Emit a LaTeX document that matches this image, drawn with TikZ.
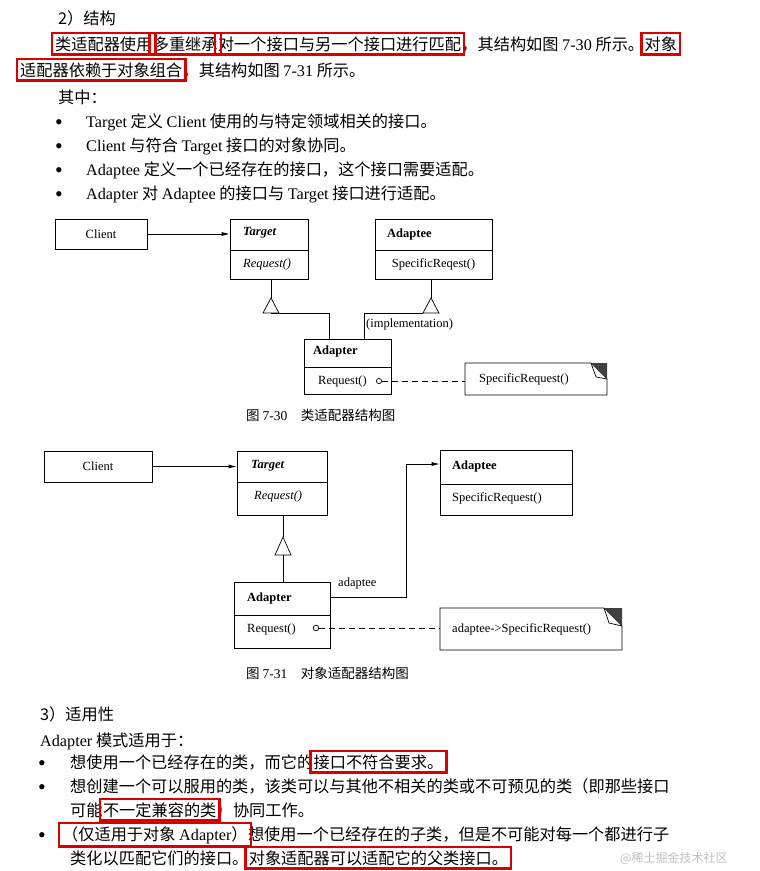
\documentclass[tikz,border=0pt]{standalone}
\usepackage{fontspec}
\setmainfont{Noto Sans CJK SC}
\newfontfamily\lt{Liberation Serif}
\usetikzlibrary{arrows.meta,fit}
\newcommand\lw[1]{{\lt #1}}
\begin{document}
\begin{tikzpicture}[x=1pt,y=-1pt,
  cls/.style={draw, line width=0.7pt, inner sep=0},
  lbl/.style={font=\lt\fontsize{12.5}{14}\selectfont, inner sep=0},
  seg/.style={anchor=base west, inner sep=0, font=\fontsize{16.2}{18}\selectfont},
  bul/.style={anchor=base west, inner sep=0, font=\lt\fontsize{22}{22}\selectfont},
  hl/.style={draw=red!85!black, line width=2.4pt, inner sep=3pt},
  con/.style={line width=0.7pt},
  arr/.style={con,-{Latex[length=8pt,width=4pt]}},
  dsh/.style={con,dash pattern=on 6pt off 4pt}]
\useasboundingbox (0,0) rectangle (760,871);
% ---------- top text ----------
\node[seg] (h2) at (58,24) {2）结构};
\node[seg] (a1) at (55,50) {类适配器使用};
\node[seg] (a2) at (a1.base east) {多重继承};
\node[seg] (a3) at (a2.base east) {对一个接口与另一个接口进行匹配};
\node[seg] (a4) at (a3.base east) {，其结构如图 \lw{7-30} 所示。};
\node[seg] (a5) at (a4.base east) {对象};
\node[hl, fit=(a1)] (b1) {};
\node[hl, fit=(a2)] (b2) {};
\node[hl, fit=(a3)] (b3) {};
\node[hl, fit=(a5)] (b4) {};
\node[seg] (c1) at (20,76) {适配器依赖于对象组合};
\node[seg] (c2) at (c1.base east) {，其结构如图 \lw{7-31} 所示。};
\node[hl, fit=(c1)] (b5) {};
\node[seg] (d0) at (58,103) {其中：};
\foreach \y/\n in {127/e1,151/e2,175/e3,199/e4} \node[bul] (\n b) at (55,\y+2) {•};
\node[seg] (e1) at (86,127) {\lw{Target} 定义 \lw{Client} 使用的与特定领域相关的接口。};
\node[seg] (e2) at (86,151) {\lw{Client} 与符合 \lw{Target} 接口的对象协同。};
\node[seg] (e3) at (86,175) {\lw{Adaptee} 定义一个已经存在的接口，这个接口需要适配。};
\node[seg] (e4) at (86,199) {\lw{Adapter} 对 \lw{Adaptee} 的接口与 \lw{Target} 接口进行适配。};
% ---------- diagram 7-30 ----------
\node[cls, minimum width=92pt, minimum height=30pt] (cl1) at (101,234) {};
\node[lbl] at (cl1) {Client};
\node[cls, minimum width=78pt, minimum height=60pt] (t1) at (269,249) {};
\draw[con] (t1.west |- 0,250) -- (t1.east |- 0,250);
\node[lbl, font=\lt\bfseries\itshape\fontsize{12.5}{14}\selectfont, anchor=west] (t1h) at (243,233) {Target};
\node[lbl, font=\lt\itshape\fontsize{12.5}{14}\selectfont, anchor=west] (t1m) at (243,264) {Request()};
\node[cls, minimum width=117pt, minimum height=60pt] (ae1) at (433.5,249) {};
\draw[con] (ae1.west |- 0,250) -- (ae1.east |- 0,250);
\node[lbl, font=\lt\bfseries\fontsize{12.5}{14}\selectfont, anchor=west] (ae1h) at (387,234) {Adaptee};
\node[lbl] (ae1m) at (433.5,264) {SpecificReqest()};
\node[cls, minimum width=87pt, minimum height=55pt] (ad1) at (347.5,366.5) {};
\draw[con] (ad1.west |- 0,367) -- (ad1.east |- 0,367);
\node[lbl, font=\lt\bfseries\fontsize{12.5}{14}\selectfont, anchor=west] (ad1h) at (313,351) {Adapter};
\node[lbl, anchor=west] (ad1m) at (318,381) {Request()};
\draw[arr] (cl1.east) -- (t1.west |- cl1.east);
% triangles
\coordinate (tr1) at (271,298);
\draw[con] (271,279) -- (tr1);
\draw[con] (tr1) -- (263,313) -- (279,313) -- cycle;
\draw[con] (271,313) -- (329,313) -- (329,339);
\coordinate (tr2) at (431,298);
\draw[con] (431,279) -- (tr2);
\draw[con] (tr2) -- (423,313) -- (439,313) -- cycle;
\draw[con] (423,313) -- (364,313) -- (364,339);
\node[lbl, anchor=west] (impl) at (366,324) {(implementation)};
% note 1
\coordinate (n1) at (465,379);
\draw[con] (465,363) -- (591,363) -- (607,379) -- (607,395) -- (465,395) -- cycle;
\fill[black!75] (591,363) -- (607,363) -- (607,379) -- cycle;
\draw[con] (591,363) -- (596,377) -- (607,379);
\node[lbl, anchor=west] (n1t) at (479,379) {SpecificRequest()};
\draw[con] (379,381) circle (2.6pt);
\coordinate (o1) at (381.6,381);
\draw[dsh] (o1) -- (n1 |- o1);
\node[seg, font=\fontsize{13.5}{15}\selectfont] (cap1) at (246,420) {图 \lw{7-30}\quad 类适配器结构图};
% ---------- diagram 7-31 ----------
\node[cls, minimum width=108pt, minimum height=31pt] (cl2) at (98,466.5) {};
\node[lbl] at (cl2) {Client};
\node[cls, minimum width=90pt, minimum height=64pt] (t2) at (282,483) {};
\draw[con] (t2.west |- 0,482) -- (t2.east |- 0,482);
\node[lbl, font=\lt\bfseries\itshape\fontsize{12.5}{14}\selectfont, anchor=west] (t2h) at (251,466) {Target};
\node[lbl, font=\lt\itshape\fontsize{12.5}{14}\selectfont, anchor=west] (t2m) at (254,496) {Request()};
\node[cls, minimum width=132pt, minimum height=65pt] (ae2) at (506,482.5) {};
\draw[con] (ae2.west |- 0,484) -- (ae2.east |- 0,484);
\node[lbl, font=\lt\bfseries\fontsize{12.5}{14}\selectfont, anchor=west] (ae2h) at (452,466) {Adaptee};
\node[lbl, anchor=west] (ae2m) at (452,498) {SpecificRequest()};
\node[cls, minimum width=96pt, minimum height=66pt] (ad2) at (282,615) {};
\draw[con] (ad2.west |- 0,615) -- (ad2.east |- 0,615);
\node[lbl, font=\lt\bfseries\fontsize{12.5}{14}\selectfont, anchor=west] (ad2h) at (247,598) {Adapter};
\node[lbl, anchor=west] (ad2m) at (247,629) {Request()};
\draw[arr] (cl2.east) -- (t2.west |- cl2.east);
\coordinate (tr3) at (283,537);
\draw[con] (t2.south -| tr3) -- (tr3);
\draw[con] (tr3) -- (275,555) -- (291,555) -- cycle;
\draw[con] (283,555) -- (ad2.north -| tr3);
\coordinate (k1) at (406,597);
\draw[arr] (ad2.east |- k1) -- (k1) -- (406,464) -- (ae2.west |- 0,464);
\node[lbl, anchor=west] (adp) at (338,583) {adaptee};
% note 2
\coordinate (n2) at (440,629);
\draw[con] (440,608) -- (604,608) -- (622,626) -- (622,650) -- (440,650) -- cycle;
\fill[black!75] (604,608) -- (622,608) -- (622,626) -- cycle;
\draw[con] (604,608) -- (609,623) -- (622,626);
\node[lbl, anchor=west] (n2t) at (452,629) {adaptee->SpecificRequest()};
\draw[con] (316,628) circle (2.8pt);
\coordinate (o2) at (318.8,628);
\draw[dsh] (o2) -- (n2 |- o2);
\node[seg, font=\fontsize{13.5}{15}\selectfont] (cap2) at (246,678) {图 \lw{7-31}\quad 对象适配器结构图};
% ---------- bottom text ----------
\node[seg] (f0) at (40,720) {3）适用性};
\node[seg] (f1) at (40,746) {\lw{Adapter} 模式适用于：};
\foreach \y/\n in {768/g1,792/g2,840/g3} \node[bul] (\n b) at (38,\y+2) {•};
\node[seg] (g1a) at (70,768) {想使用一个已经存在的类，而它的};
\node[seg] (g1b) at (g1a.base east) {接口不符合要求。};
\node[hl, fit=(g1b)] (r1) {};
\node[seg] (g2a) at (70,792) {想创建一个可以服用的类，该类可以与其他不相关的类或不可预见的类（即那些接口};
\node[seg] (g2b) at (70,816) {可能};
\node[seg] (g2c) at (g2b.base east) {不一定兼容的类};
\node[seg] (g2d) at (g2c.base east) {）协同工作。};
\node[hl, fit=(g2c)] (r2) {};
\node[seg] (g3a) at (62,840) {（仅适用于对象 \lw{Adapter}）};
\node[seg] (g3b) at (g3a.base east) {想使用一个已经存在的子类，但是不可能对每一个都进行子};
\node[hl, fit=(g3a)] (r3) {};
\node[seg] (g4a) at (70,864) {类化以匹配它们的接口。};
\node[seg] (g4b) at (g4a.base east) {对象适配器可以适配它的父类接口。};
\node[hl, fit=(g4b)] (r4) {};
\node[seg, text=gray!50, font=\fontsize{12}{14}\selectfont] (wm) at (620,862) {@稀土掘金技术社区};
\end{tikzpicture}
\end{document}
